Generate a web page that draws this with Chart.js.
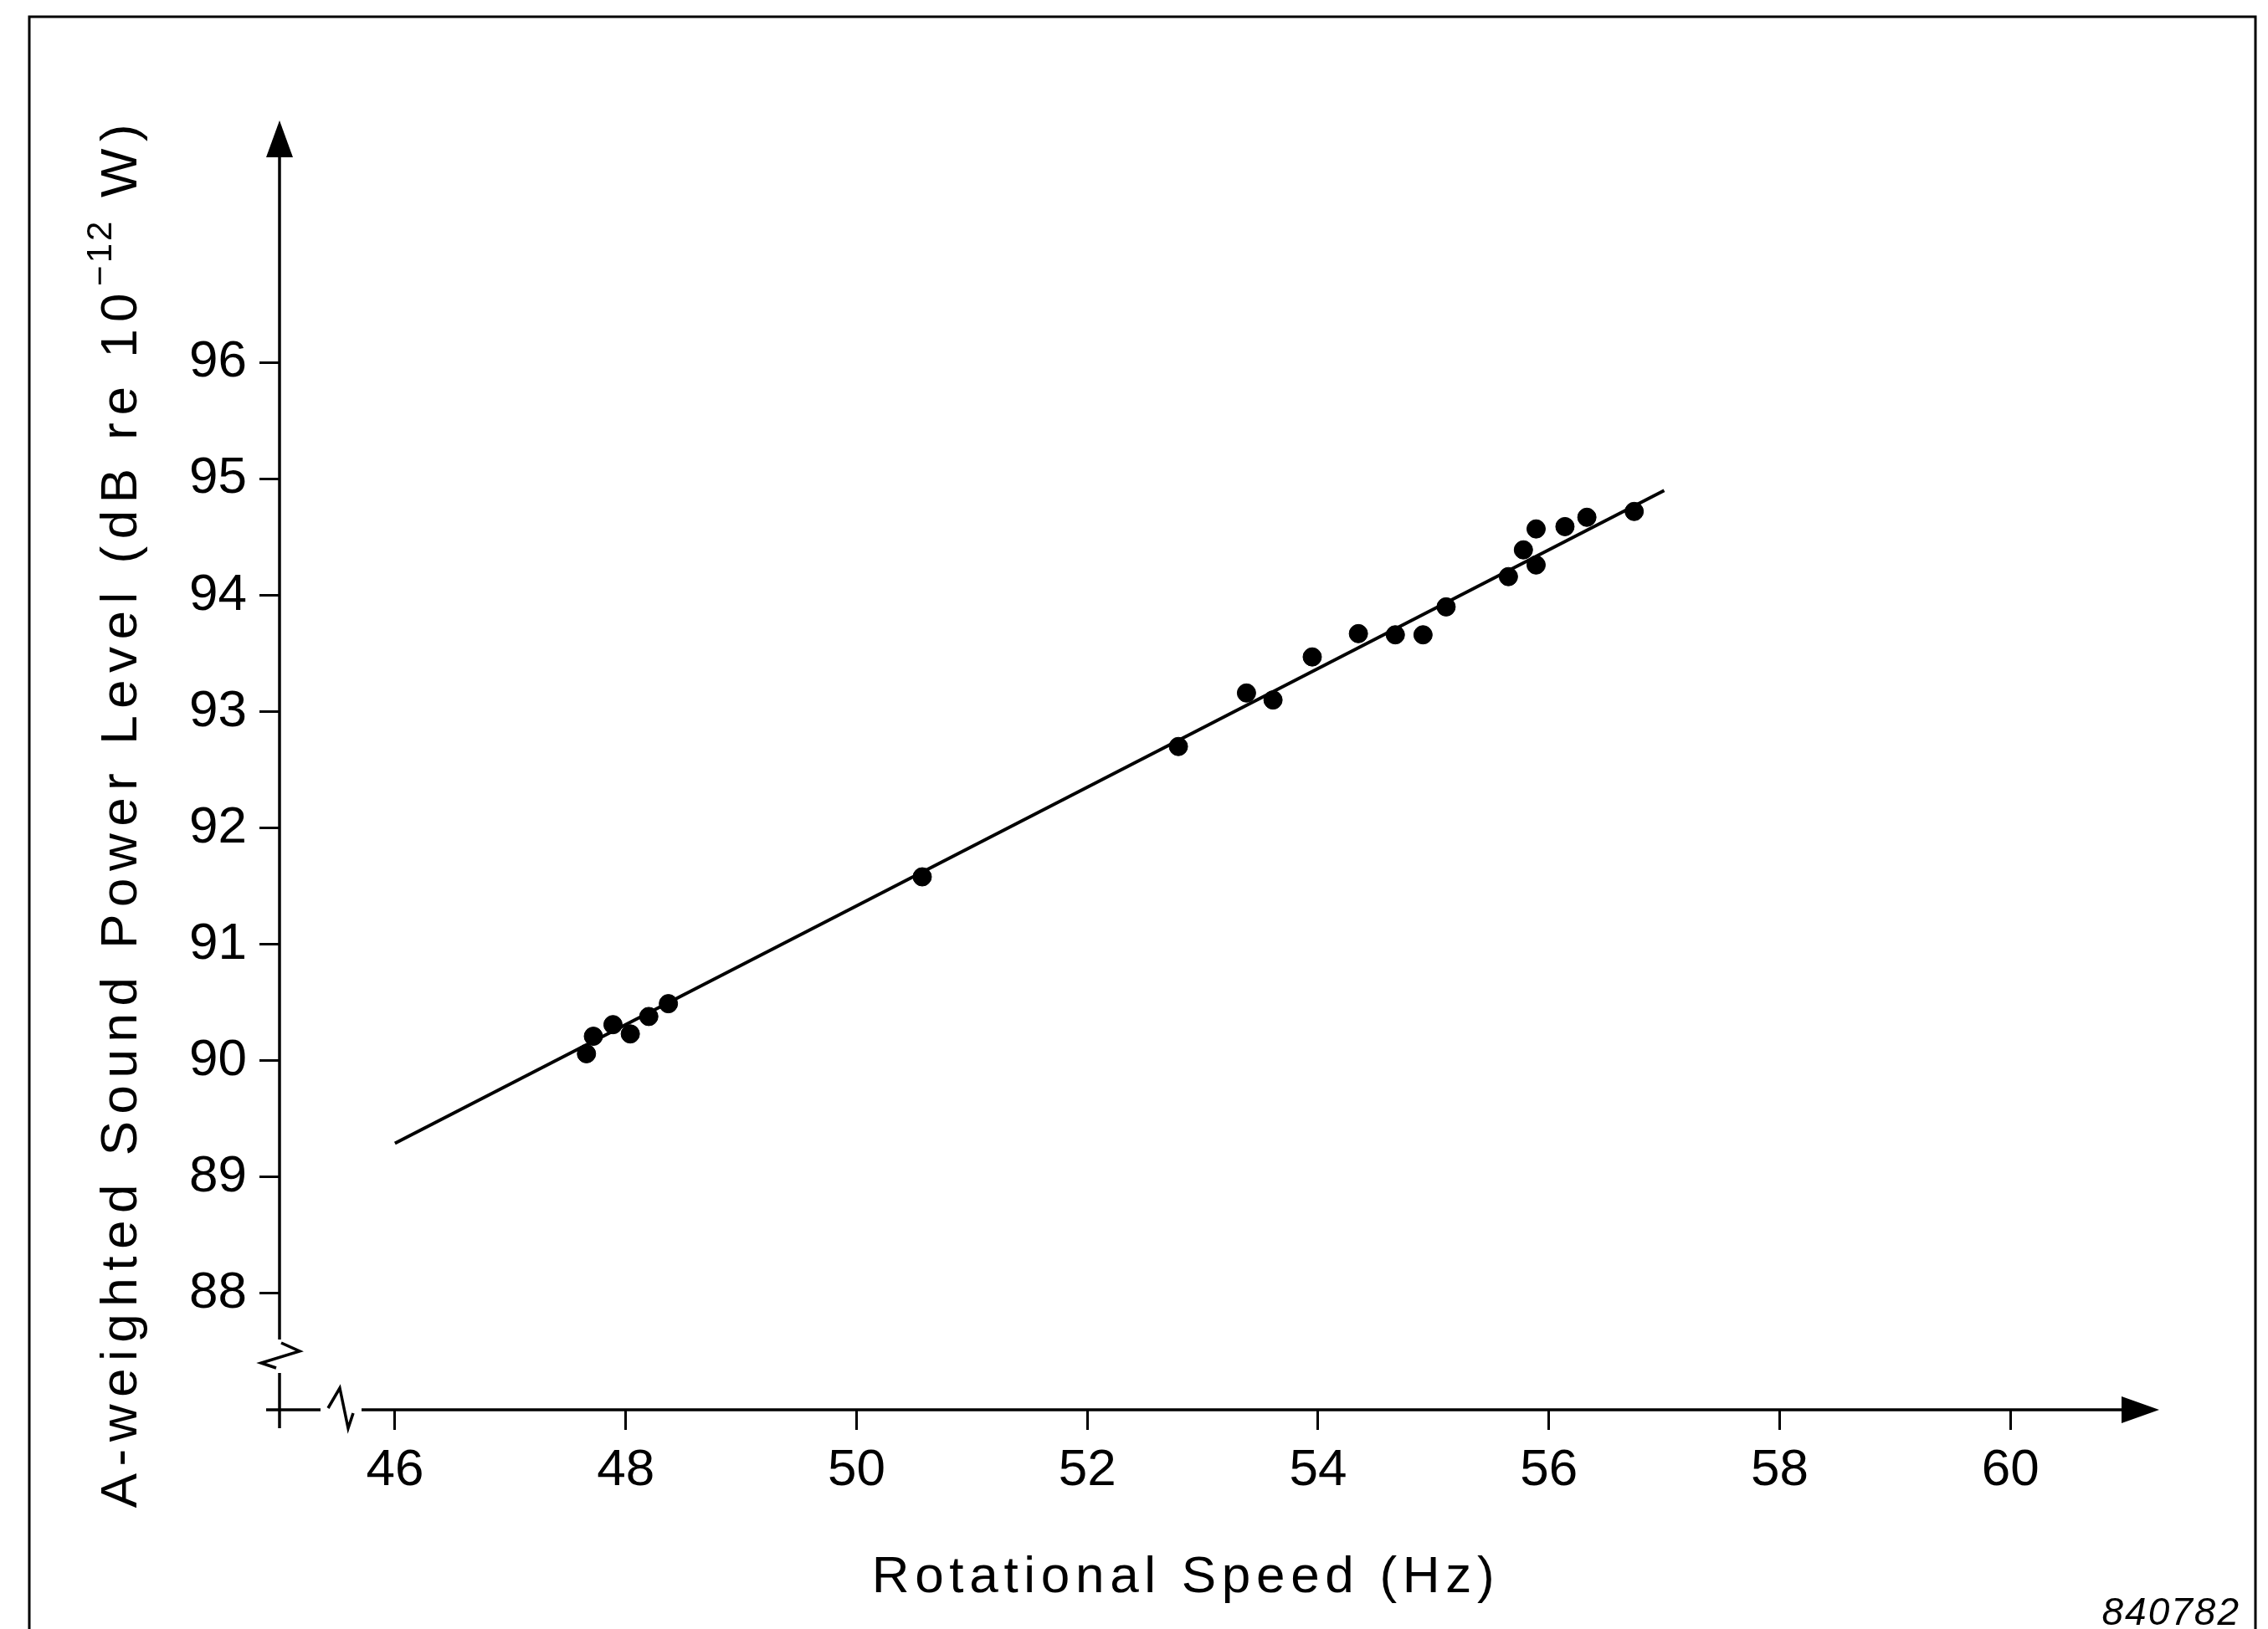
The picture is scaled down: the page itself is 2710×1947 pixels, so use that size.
<!DOCTYPE html>
<html>
<head>
<meta charset="utf-8">
<title>Sound power level vs rotational speed</title>
<script src="https://cdn.jsdelivr.net/npm/chart.js@4.4.1/dist/chart.umd.min.js"></script>
<style>
  html, body { margin: 0; padding: 0; background: #fff; }
  canvas { display: block; }
</style>
</head>
<body>
<canvas id="myChart" width="2710" height="1947"></canvas>
<script>
const speedHz = [47.66, 47.72, 47.89, 48.04, 48.20, 48.37, 50.57, 52.79, 53.38, 53.61, 53.95,
  54.35, 54.67, 54.91, 55.11, 55.65, 55.78, 55.89, 55.89, 56.14, 56.33, 56.74];
const levelDb = [90.06, 90.21, 90.31, 90.23, 90.38, 90.49, 91.58, 92.70, 93.16, 93.10, 93.47,
  93.67, 93.66, 93.66, 93.90, 94.16, 94.39, 94.57, 94.26, 94.59, 94.67, 94.72];

// Recta de ajuste (extremos)
const fitHz = [46, 57];
const fitDb = [89.29, 94.90];

// Ticks de los ejes
const xTicks = [46, 48, 50, 52, 54, 56, 58, 60];
const yTicks = [88, 89, 90, 91, 92, 93, 94, 95, 96];

// Textos
const xTitle = 'Rotational Speed (Hz)';
const yTitleMain = 'A-weighted Sound Power Level (dB re 10';
const yTitleSup = '\u221212';
const yTitleEnd = ' W)';
const figureId = '840782';

const FONT = "'Liberation Sans', Arial, sans-serif";

const points = speedHz.map((x, i) => ({x: x, y: levelDb[i]}));
const fitLine = fitHz.map((x, i) => ({x: x, y: fitDb[i]}));

// ejes con quiebre, flechas, titulos y marco
const axesPlugin = {
  id: 'axesPlugin',
  afterDraw(chart) {
    const ctx = chart.ctx;
    const a = chart.chartArea;
    const x0 = a.left, y0 = a.bottom;
    ctx.save();
    ctx.strokeStyle = '#000';
    ctx.fillStyle = '#000';
    ctx.lineWidth = 3.5;
    ctx.lineJoin = 'miter';

    // eje y con quiebre
    ctx.beginPath();
    ctx.moveTo(x0, a.top + 40);
    ctx.lineTo(x0, y0 - 84);
    ctx.stroke();
    ctx.beginPath();
    ctx.moveTo(x0 + 2, y0 - 80);
    ctx.lineTo(x0 + 24, y0 - 70);
    ctx.lineTo(x0 - 22, y0 - 56);
    ctx.lineTo(x0 - 4, y0 - 50);
    ctx.stroke();
    ctx.beginPath();
    ctx.moveTo(x0, y0 - 44);
    ctx.lineTo(x0, y0 + 22);
    ctx.stroke();

    // eje x con quiebre
    ctx.beginPath();
    ctx.moveTo(x0 - 16, y0);
    ctx.lineTo(x0 + 49, y0);
    ctx.stroke();
    ctx.beginPath();
    ctx.moveTo(x0 + 58, y0 - 2);
    ctx.lineTo(x0 + 72, y0 - 26);
    ctx.lineTo(x0 + 82, y0 + 22);
    ctx.lineTo(x0 + 88, y0 + 4);
    ctx.stroke();
    ctx.beginPath();
    ctx.moveTo(x0 + 98, y0);
    ctx.lineTo(a.right - 40, y0);
    ctx.stroke();

    // flechas
    ctx.beginPath();
    ctx.moveTo(x0, a.top);
    ctx.lineTo(x0 - 16, a.top + 44);
    ctx.lineTo(x0 + 16, a.top + 44);
    ctx.closePath();
    ctx.fill();
    ctx.beginPath();
    ctx.moveTo(a.right, y0);
    ctx.lineTo(a.right - 45, y0 - 16);
    ctx.lineTo(a.right - 45, y0 + 16);
    ctx.closePath();
    ctx.fill();

    // titulo eje x
    ctx.font = '62px ' + FONT;
    ctx.letterSpacing = '6.7px';
    ctx.textAlign = 'center';
    ctx.textBaseline = 'alphabetic';
    ctx.fillText(xTitle, 1417, 1903);

    // titulo eje y (rotado, con superindice)
    ctx.save();
    ctx.translate(163, 971);
    ctx.rotate(-Math.PI / 2);
    ctx.textAlign = 'left';
    ctx.font = '62px ' + FONT;
    ctx.letterSpacing = '8.5px';
    const w1 = ctx.measureText(yTitleMain).width;
    const w3 = ctx.measureText(yTitleEnd).width;
    ctx.font = '42px ' + FONT;
    ctx.letterSpacing = '3px';
    const w2 = ctx.measureText(yTitleSup).width;
    let px = -(w1 + w2 + w3) / 2;
    ctx.font = '62px ' + FONT;
    ctx.letterSpacing = '8.5px';
    ctx.fillText(yTitleMain, px, 0);
    px += w1;
    ctx.font = '42px ' + FONT;
    ctx.letterSpacing = '3px';
    ctx.fillText(yTitleSup, px, -30);
    px += w2;
    ctx.font = '62px ' + FONT;
    ctx.letterSpacing = '8.5px';
    ctx.fillText(yTitleEnd, px, 0);
    ctx.restore();

    // numero de figura
    ctx.font = 'italic 46px ' + FONT;
    ctx.letterSpacing = '2px';
    ctx.textAlign = 'right';
    ctx.fillText(figureId, 2677, 1942);

    // marco
    ctx.lineWidth = 3;
    ctx.beginPath();
    ctx.moveTo(35, 1947);
    ctx.lineTo(35, 20);
    ctx.lineTo(2695, 20);
    ctx.lineTo(2695, 1947);
    ctx.stroke();
    ctx.restore();
  }
};

const config = {
  type: 'scatter',
  data: {
    datasets: [
      {
        label: 'Measured',
        data: points,
        backgroundColor: '#000',
        borderColor: '#000',
        pointRadius: 11,
        pointHoverRadius: 11,
      },
      {
        type: 'line',
        label: 'Fit',
        data: fitLine,
        borderColor: '#000',
        borderWidth: 4,
        pointRadius: 0,
        fill: false,
      },
    ],
  },
  options: {
    responsive: false,
    animation: false,
    devicePixelRatio: 1,
    layout: { padding: { top: 144, right: 130, left: 0, bottom: 0 } },
    plugins: {
      legend: { display: false },
      tooltip: { enabled: false },
    },
    scales: {
      x: {
        type: 'linear',
        min: 45,
        max: 61.29,
        afterBuildTicks: (scale) => { scale.ticks = xTicks.map(v => ({value: v})); },
        afterFit: (scale) => { scale.height = 262; },
        border: { display: false },
        grid: { drawOnChartArea: false, drawTicks: true, tickLength: 24, color: '#000', lineWidth: 3 },
        ticks: { color: '#000', padding: 12, font: { family: FONT, size: 62 }, maxRotation: 0 },
      },
      y: {
        type: 'linear',
        min: 87,
        max: 98.08,
        afterBuildTicks: (scale) => { scale.ticks = yTicks.map(v => ({value: v})); },
        afterFit: (scale) => { scale.width = 334; },
        border: { display: false },
        grid: { drawOnChartArea: false, drawTicks: true, tickLength: 24, color: '#000', lineWidth: 3 },
        ticks: { color: '#000', padding: 15, font: { family: FONT, size: 62 } },
      },
    },
  },
  plugins: [axesPlugin],
};

const myChart = new Chart(document.getElementById('myChart'), config);
</script>
</body>
</html>
